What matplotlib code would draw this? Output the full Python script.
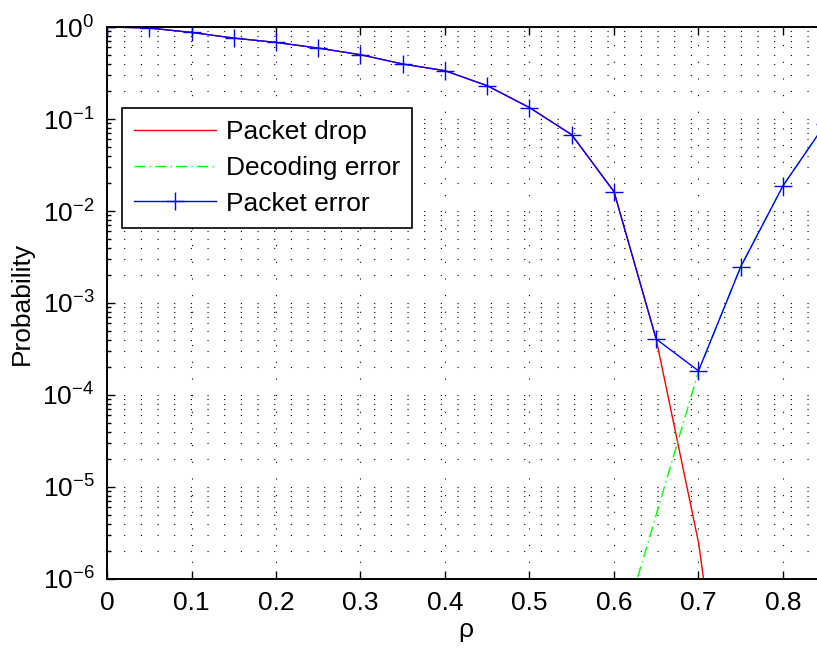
import numpy as np
import matplotlib
matplotlib.use("Agg")
from matplotlib import pyplot as plt
from matplotlib.ticker import NullFormatter, FixedLocator, LogFormatterMathtext

plt.rcParams['font.family'] = ['Liberation Sans', 'DejaVu Sans']
plt.rcParams['mathtext.fontset'] = 'custom'
plt.rcParams['mathtext.rm'] = 'Liberation Sans'
plt.rcParams['mathtext.it'] = 'Liberation Sans:italic'
plt.rcParams['axes.unicode_minus'] = True

# rho values and probabilities
rho = [0.0, 0.05, 0.1, 0.15, 0.2, 0.25, 0.3, 0.35, 0.4, 0.45,
       0.5, 0.55, 0.6, 0.65, 0.7, 0.75, 0.8, 0.85]
packet_error = [1.0, 0.975, 0.873, 0.758, 0.68, 0.59, 0.50, 0.396, 0.335, 0.23,
                0.133, 0.0675, 0.0162, 4.05e-4, 1.83e-4, 2.48e-3, 0.0188, 0.088]
packet_drop = [1.0, 0.975, 0.873, 0.758, 0.68, 0.59, 0.50, 0.396, 0.335, 0.23,
               0.133, 0.0675, 0.0162, 4.0e-4, 2.5e-6, 1.2e-9, 1e-12, 1e-14]
decoding_error = [1e-12, 1e-12, 1e-12, 1e-12, 1e-12, 1e-12, 1e-12, 1e-12, 1e-12, 1e-12,
                  1e-11, 1e-9, 1.4e-7, 5.0e-6, 1.8e-4, 2.48e-3, 0.0188, 0.088]

x_ticks = [0, 0.1, 0.2, 0.3, 0.4, 0.5, 0.6, 0.7, 0.8]
x_ticklabels = ['0', '0.1', '0.2', '0.3', '0.4', '0.5', '0.6', '0.7', '0.8']
y_ticks = [1e-6, 1e-5, 1e-4, 1e-3, 1e-2, 1e-1, 1e0]

FS = 19

fig = plt.figure(figsize=(8.17, 6.56), dpi=100)
ax = fig.add_axes([107/817, 1-579/656, 0.85*845/817, 552/656])

ax.semilogy(rho, packet_drop, color='#ff0000', lw=1.0, label='Packet drop')
ax.semilogy(rho, decoding_error, color='#00ff00', lw=1.0, ls=(0, (8, 3, 1, 3)),
            label='Decoding error')
ax.semilogy(rho, packet_error, color='#0000ff', lw=1.0, marker='+', ms=13, mew=1.0,
            label='Packet error')

ax.set_xlim(0, 0.85)
ax.set_ylim(1e-6, 1)
ax.xaxis.set_major_locator(FixedLocator(x_ticks))
ax.set_xticklabels(x_ticklabels)
ax.yaxis.set_major_locator(FixedLocator(y_ticks))
ax.yaxis.set_major_formatter(LogFormatterMathtext())
minor = [m * 10.0**e for e in range(-6, 0) for m in range(2, 10)]
ax.yaxis.set_minor_locator(FixedLocator(minor))
ax.yaxis.set_minor_formatter(NullFormatter())

ax.tick_params(which='both', direction='in', top=True, right=True, labelsize=FS, width=1.0)
ax.tick_params(which='major', length=6, pad=9)
ax.tick_params(which='minor', length=3)
for s in ax.spines.values():
    s.set_linewidth(1.4)

grid_style = dict(color='black', lw=0.8, ls=(0, (1, 14)))
ax.grid(True, which='major', axis='both', **grid_style)
ax.grid(True, which='minor', axis='y', **grid_style)

ax.set_xlabel('ρ', fontsize=FS, labelpad=2)
ax.set_ylabel('Probability', fontsize=FS, labelpad=6)

leg = ax.legend(loc='upper left', bbox_to_anchor=(122/817, 1-108/656),
                bbox_transform=fig.transFigure, borderaxespad=0, fontsize=FS,
                fancybox=False, framealpha=1, edgecolor='black',
                handlelength=3.1, handletextpad=0.4, labelspacing=0.45, borderpad=0.45)
leg.get_frame().set_linewidth(1.2)

fig.savefig('out.png', dpi=100)
